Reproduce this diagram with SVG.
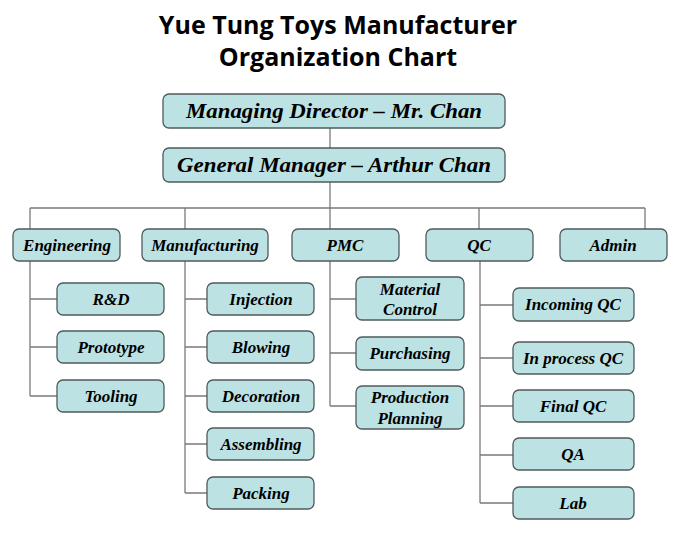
<svg xmlns="http://www.w3.org/2000/svg" width="680" height="553" viewBox="0 0 680 553">
<style>
.bg{fill:#ffffff}
.title{font-family:"Open Sans","Liberation Sans",sans-serif;font-weight:700;font-size:25px;fill:#000;text-anchor:middle}
.box{fill:#bde2e4;stroke:#4f5b5c;stroke-width:1.3}
.t{font-family:"Liberation Serif","DejaVu Serif",serif;font-style:italic;font-weight:700;font-size:17px;fill:#000;text-anchor:middle}
.big{font-size:20px}
.conn{fill:none;stroke:#7a7a7a;stroke-width:1.3}
</style>
<rect class="bg" x="0" y="0" width="680" height="553"/>
<g id="title">
<text class="title" x="338" y="34">Yue Tung Toys Manufacturer</text>
<text class="title" x="338" y="66">Organization Chart</text>
</g>
<g id="connectors">
<path class="conn" d="M330 128V148M330 182V208M30 208H645M30 208V229M185 208V229M330 208V229M479 208V229M645 208V229"/>
<path class="conn" d="M30 261V396M30 299H57M30 347H57M30 396H57"/>
<path class="conn" d="M185 261V493M185 299H207M185 347H207M185 396H207M185 444H207M185 493H207"/>
<path class="conn" d="M330 261V406M330 299H356M330 353H356M330 406H356"/>
<path class="conn" d="M480 261V503M480 305H513M480 358H513M480 406H513M480 455H513M480 503H513"/>
</g>
<g id="md"><rect class="box" x="163" y="94" width="342" height="34" rx="6"/><text class="t big" x="334" y="118" textLength="296" lengthAdjust="spacingAndGlyphs">Managing Director – Mr. Chan</text></g>
<g id="gm"><rect class="box" x="163" y="148" width="342" height="34" rx="6"/><text class="t big" x="334" y="172" textLength="314" lengthAdjust="spacingAndGlyphs">General Manager – Arthur Chan</text></g>
<g id="engineering"><rect class="box" x="13" y="229" width="107" height="32" rx="6"/><text class="t" x="67" y="251">Engineering</text></g>
<g id="manufacturing"><rect class="box" x="142" y="229" width="126" height="32" rx="6"/><text class="t" x="205" y="251">Manufacturing</text></g>
<g id="pmc"><rect class="box" x="292" y="229" width="107" height="32" rx="6"/><text class="t" x="345" y="251">PMC</text></g>
<g id="qc"><rect class="box" x="426" y="229" width="107" height="32" rx="6"/><text class="t" x="479" y="251">QC</text></g>
<g id="admin"><rect class="box" x="560" y="229" width="107" height="32" rx="6"/><text class="t" x="613" y="251">Admin</text></g>
<g id="rd"><rect class="box" x="57" y="283" width="107" height="32" rx="6"/><text class="t" x="111" y="305">R&amp;D</text></g>
<g id="prototype"><rect class="box" x="57" y="331" width="107" height="32" rx="6"/><text class="t" x="111" y="353">Prototype</text></g>
<g id="tooling"><rect class="box" x="57" y="380" width="107" height="32" rx="6"/><text class="t" x="111" y="402">Tooling</text></g>
<g id="injection"><rect class="box" x="207" y="283" width="107" height="32" rx="6"/><text class="t" x="261" y="305">Injection</text></g>
<g id="blowing"><rect class="box" x="207" y="331" width="107" height="32" rx="6"/><text class="t" x="261" y="353">Blowing</text></g>
<g id="decoration"><rect class="box" x="207" y="380" width="107" height="32" rx="6"/><text class="t" x="261" y="402">Decoration</text></g>
<g id="assembling"><rect class="box" x="207" y="428" width="107" height="32" rx="6"/><text class="t" x="261" y="450">Assembling</text></g>
<g id="packing"><rect class="box" x="207" y="477" width="107" height="32" rx="6"/><text class="t" x="261" y="499">Packing</text></g>
<g id="material"><rect class="box" x="356" y="277" width="108" height="43" rx="6"/><text class="t" x="410" y="295">Material</text><text class="t" x="410" y="315">Control</text></g>
<g id="purchasing"><rect class="box" x="356" y="337" width="108" height="33" rx="6"/><text class="t" x="410" y="359">Purchasing</text></g>
<g id="planning"><rect class="box" x="356" y="386" width="108" height="43" rx="6"/><text class="t" x="410" y="403">Production</text><text class="t" x="410" y="424">Planning</text></g>
<g id="incoming"><rect class="box" x="513" y="288" width="121" height="33" rx="6"/><text class="t" x="573" y="310">Incoming QC</text></g>
<g id="inprocess"><rect class="box" x="513" y="342" width="121" height="32" rx="6"/><text class="t" x="573" y="364">In process QC</text></g>
<g id="finalqc"><rect class="box" x="513" y="390" width="121" height="32" rx="6"/><text class="t" x="573" y="412">Final QC</text></g>
<g id="qa"><rect class="box" x="513" y="438" width="121" height="32" rx="6"/><text class="t" x="573" y="460">QA</text></g>
<g id="lab"><rect class="box" x="513" y="487" width="121" height="32" rx="6"/><text class="t" x="573" y="509">Lab</text></g>
</svg>
